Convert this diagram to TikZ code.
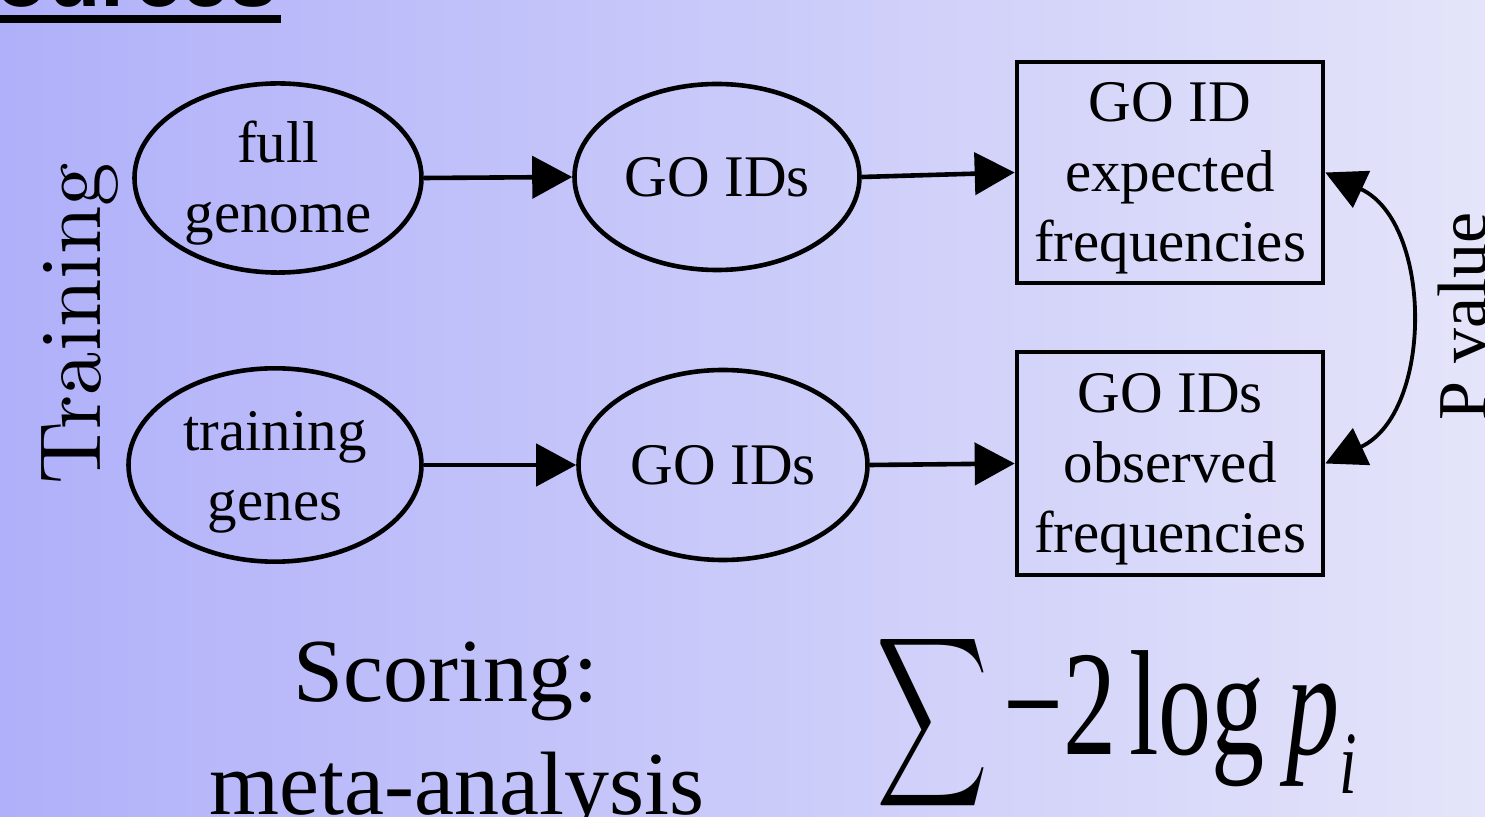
\documentclass[tikz,border=0pt]{standalone}
\usepackage{fontspec}
\usepackage{graphicx}
\setmainfont{Liberation Serif}
\newfontfamily\titlefont{Liberation Sans}
\newfontfamily\lmfont{lmroman10-regular.otf}
\usetikzlibrary{shapes.geometric,arrows.meta}
\definecolor{bgleft}{RGB}{176,176,250}
\definecolor{bgright}{RGB}{228,228,250}
% taller first line pushes multi-line labels slightly down in their shapes
\newcommand\firstline{\rule{0pt}{25.5pt}}
\tikzset{
  oval/.style={ellipse, draw, line width=2.3pt, inner sep=0pt, align=center,
    font=\fontsize{29.5}{35}\selectfont},
  freqbox/.style={rectangle, draw, line width=2.3pt, inner sep=0pt, align=center,
    minimum width=153pt, font=\fontsize{29.5}{35}\selectfont},
  flow/.style={line width=2.3pt, -{Triangle[length=20pt,width=21pt]}},
  pair/.style={line width=1.9pt, {Triangle[length=20pt,width=20pt]}-{Triangle[length=20pt,width=20pt]}},
  caption/.style={anchor=base, inner sep=0pt, font=\fontsize{45}{56}\selectfont}
}
\begin{document}
\begin{tikzpicture}[x=0.5pt, y=-0.5pt]
  \useasboundingbox (0,0) rectangle (1485,817);
  \clip (0,0) rectangle (1485,817);
  \shade[left color=bgleft, right color=bgright] (0,0) rectangle (1485,817);

  % slide heading, mostly above the frame
  \node[anchor=base east, inner sep=0pt, font=\titlefont\bfseries\fontsize{43}{43}\selectfont] (title) at (278,7) {Sources};
  \draw[line width=4pt] (0,19) -- (281,19);

  % side labels
  \node[rotate=90, anchor=base, inner sep=0pt, font=\lmfont\fontsize{43.5}{43.5}\selectfont] (train) at (100,324) {Training};
  \node[rotate=90, anchor=base, inner sep=0pt, font=\fontsize{35}{35}\selectfont] (pval) at (1486,316) {P value};

  % top row: genome background
  \node[oval, minimum width=143.5pt, minimum height=92pt] (genome) at (278,178) {\firstline full\\genome};
  \node[oval, minimum width=142.5pt, minimum height=93pt] (goA) at (717,177) {GO IDs};
  \node[freqbox, minimum height=110.5pt] (expected) at (1170,172.5) {\firstline GO ID\\expected\\frequencies};

  % bottom row: training set
  \node[oval, minimum width=146.5pt, minimum height=95pt] (genes) at (275,465) {\rule{0pt}{27pt}training\\genes};
  \node[oval, minimum width=144.5pt, minimum height=95pt] (goB) at (723,465) {GO IDs};
  \node[freqbox, minimum height=111.5pt] (observed) at (1170,463.5) {\firstline GO IDs\\observed\\frequencies};

  % connectors
  \draw[flow] (genome.east) -- (goA.west);
  \draw[flow] (goA.east) -- (expected.west);
  \draw[flow] (genes.east) -- (goB.west);
  \draw[flow] (goB.east) -- (observed.west);
  \draw[pair] (expected.east) to[out=-25, in=25, looseness=1.05] (observed.east);

  % scoring
  \node[caption] (score) at (446,702) {Scoring:};
  \node[caption] (meta) at (457,815) {meta-analysis};

  % combined statistic
  \node[anchor=north west, inner sep=0pt] (sumsign) at (876,627)
    {\resizebox*{56pt}{95pt}{$\displaystyle\sum$}};
  \node[anchor=base west, inner sep=0pt] (stat) at (1003,755)
    {\scalebox{0.83}[1.17]{\fontsize{64}{64}\selectfont −2\hspace{0.12em}log\hspace{0.2em}\textit{p}\raisebox{-0.26em}{\fontsize{38}{38}\selectfont\textit{i}}}};
\end{tikzpicture}
\end{document}
